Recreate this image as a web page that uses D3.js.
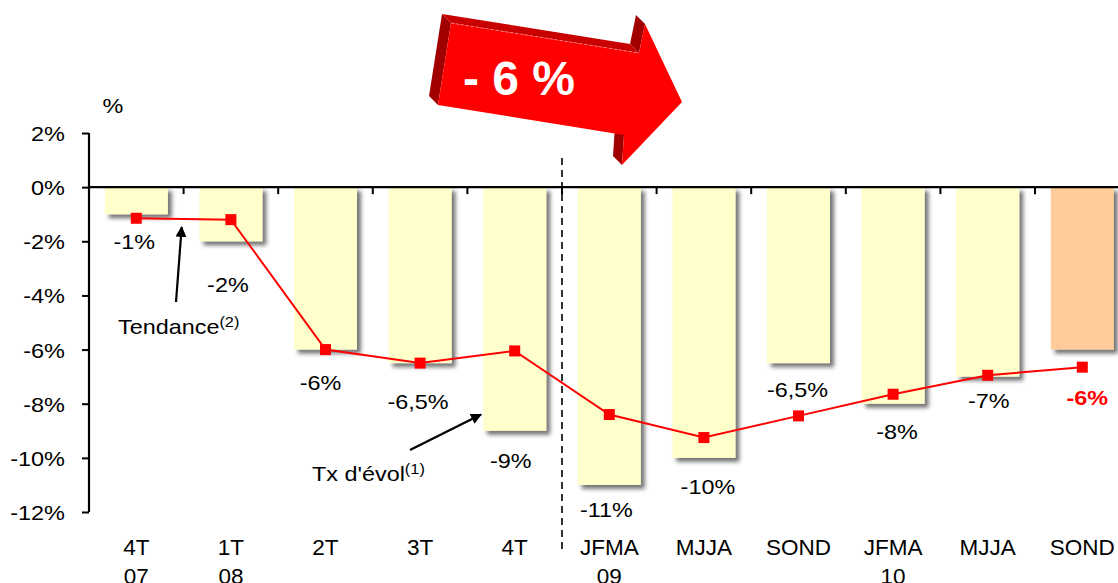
<!DOCTYPE html>
<html><head><meta charset="utf-8">
<script src="https://cdn.jsdelivr.net/npm/d3@7"></script>
<style>
html,body{margin:0;padding:0;background:#fff;}
svg{display:block;font-family:"Liberation Sans",Arial,sans-serif;}
</style></head>
<body>
<svg id="c" width="1118" height="583"></svg>
<script>
// ---- data ----
const categories = ["4T|07","1T|08","2T","3T","4T","JFMA|09","MJJA","SOND","JFMA|10","MJJA","SOND"];
const barValues = [-1,-2,-6,-6.5,-9,-11,-10,-6.5,-8,-7,-6];
const trendValues = [-1.15,-1.2,-6.0,-6.5,-6.05,-8.4,-9.25,-8.45,-7.65,-6.95,-6.65];
const barLabels = ["-1%","-2%","-6%","-6,5%","-9%","-11%","-10%","-6,5%","-8%","-7%","-6%"];
const labelLevels = [-2.03,-3.62,-7.24,-7.94,-10.12,-11.9,-11.08,-7.48,-9.03,-7.9,-7.78];
const labelShift = [-2,-3,-5,-2,-4,-3,4,-1,4,1,5];
const yTicks = [2,0,-2,-4,-6,-8,-10,-12];
const highlightIndex = 10;

// ---- layout ----
const svg = d3.select("#c");
const x = d3.scaleBand().domain(d3.range(categories.length)).range([89, 1129.6]).padding(0);
const y = d3.scaleLinear().domain([2,-12]).range([133,512]);
const bw = x.bandwidth();
const barW = bw*0.666;
const SX = 1.17; // horizontal stretch of the original text rendering

function sText(g, tx, ty, size, anchor){
  return g.append("text").attr("transform",`translate(${tx},${ty}) scale(${SX},1)`)
    .attr("font-size",size).attr("text-anchor",anchor||"start").attr("fill","#000");
}

const defs = svg.append("defs");
const f = defs.append("filter").attr("id","sh").attr("x","-20%").attr("y","-20%").attr("width","150%").attr("height","150%");
f.append("feGaussianBlur").attr("in","SourceAlpha").attr("stdDeviation",2.2).attr("result","b");
f.append("feOffset").attr("in","b").attr("dx",4).attr("dy",4).attr("result","o");
f.append("feComponentTransfer").attr("in","o").attr("result","o2")
  .append("feFuncA").attr("type","linear").attr("slope",0.55);
const m = f.append("feMerge"); m.append("feMergeNode").attr("in","o2"); m.append("feMergeNode").attr("in","SourceGraphic");

// bars
svg.append("g").selectAll("rect").data(barValues).join("rect")
  .attr("x",(d,i)=>x(i)+(bw-barW)/2)
  .attr("y",y(0))
  .attr("width",barW)
  .attr("height",d=>y(d)-y(0))
  .attr("fill",(d,i)=>i===highlightIndex?"#FFCC99":"#FFFFCC")
  .attr("filter","url(#sh)");

// y axis
const ySX = 1.12;
const yAxis = d3.axisLeft(y).tickValues(yTicks).tickFormat(d=>d+"%").tickSize(7).tickPadding(10);
const gy = svg.append("g").attr("transform","translate(89,0)").call(yAxis);
gy.select(".domain").attr("stroke","#000").attr("stroke-width",2.2).attr("d",`M0,${y(2)}V${y(-12)}`);
gy.selectAll(".tick line").attr("stroke","#000").attr("stroke-width",2);
gy.selectAll(".tick text").attr("font-size",21).attr("font-family","Liberation Sans, Arial").attr("fill","#000")
  .attr("transform",`scale(${ySX},1)`).attr("x",-24/ySX).attr("dy","0.36em");

// x axis line at 0 with boundary ticks
const gx = svg.append("g");
gx.append("line").attr("x1",89).attr("x2",1130).attr("y1",y(0)).attr("y2",y(0)).attr("stroke","#000").attr("stroke-width",2.2);
gx.selectAll("line.tk").data(d3.range(1,categories.length)).join("line").attr("class","tk")
  .attr("x1",i=>x(i)).attr("x2",i=>x(i)).attr("y1",y(0)).attr("y2",y(0)+7)
  .attr("stroke","#000").attr("stroke-width",2);

// category labels
const cl = svg.append("g").selectAll("text").data(categories).join("text")
  .attr("x",(d,i)=>x(i)+bw/2).attr("y",555).attr("text-anchor","middle")
  .attr("font-size",22.5).attr("fill","#000");
cl.each(function(d){
  const parts=d.split("|");
  const t=d3.select(this);
  parts.forEach((p,k)=>t.append("tspan").attr("x",t.attr("x")).attr("dy",k===0?0:29).text(p));
});

// dashed separator
svg.append("line").attr("x1",x(5)).attr("x2",x(5)).attr("y1",158).attr("y2",552)
  .attr("stroke","#000").attr("stroke-width",1.6).attr("stroke-dasharray","7,5");

// trend line
const line = d3.line().x((d,i)=>x(i)+bw/2).y(d=>y(d));
svg.append("path").datum(trendValues).attr("d",line).attr("fill","none").attr("stroke","#FF0000").attr("stroke-width",2);
svg.append("g").selectAll("rect").data(trendValues).join("rect")
  .attr("x",(d,i)=>x(i)+bw/2-5.5).attr("y",d=>y(d)-5.5).attr("width",11).attr("height",11).attr("fill","#FF0000");

// value labels
const gl = svg.append("g");
barLabels.forEach((d,i)=>{
  sText(gl, x(i)+bw/2+labelShift[i], y(labelLevels[i]), 20, "middle")
    .attr("dy","0.36em")
    .attr("fill",i===highlightIndex?"#FF0000":"#000")
    .attr("font-weight",i===highlightIndex?"bold":"normal")
    .text(d);
});

// unit label
sText(svg, 113, 113, 20, "middle").text("%");

// annotations
defs.append("marker").attr("id","ah").attr("viewBox","0 0 10 10").attr("refX",9).attr("refY",5)
  .attr("markerWidth",5).attr("markerHeight",5).attr("orient","auto")
  .append("path").attr("d","M0,0L10,5L0,10Z").attr("fill","#000");
svg.append("line").attr("x1",176).attr("y1",302).attr("x2",181.7).attr("y2",227).attr("stroke","#000").attr("stroke-width",2.2).attr("marker-end","url(#ah)");
svg.append("line").attr("x1",410).attr("y1",450).attr("x2",481).attr("y2",414.5).attr("stroke","#000").attr("stroke-width",2.2).attr("marker-end","url(#ah)");
const t1 = sText(svg, 118, 334, 20);
t1.append("tspan").text("Tendance");
t1.append("tspan").attr("font-size",14).attr("dy",-7).text("(2)");
const t2 = sText(svg, 312, 481, 20);
t2.append("tspan").text("Tx d'évol");
t2.append("tspan").attr("font-size",14).attr("dy",-7).text("(1)");

// big 3D arrow
const ga = svg.append("g");
const poly = pts => "M"+pts.map(p=>p.join(",")).join("L")+"Z";
ga.append("path").attr("d",poly([[615,126],[624,135],[622,165],[613,156]])).attr("fill","#A00000");
ga.append("path").attr("d",poly([[442,14],[451,23],[438,105],[429,96]])).attr("fill","#A00000");
ga.append("path").attr("d",poly([[442,14],[630,44],[639,53],[451,23]])).attr("fill","#C80000");
ga.append("path").attr("d",poly([[630,44],[636,15],[645,24],[639,53]])).attr("fill","#A00000");
ga.append("path").attr("d",poly([[451,23],[639,53],[645,24],[682,102],[622,165],[624,135],[438,105]])).attr("fill","#FF0000");
ga.append("path").attr("d","M451,23L639,53").attr("stroke","#FF9999").attr("stroke-width",0.7).attr("stroke-dasharray","3,2");
ga.append("text").attr("x",463).attr("y",95).attr("font-size",48).attr("font-weight","bold").attr("fill","#fff").text("- 6 %");
</script>
</body></html>
